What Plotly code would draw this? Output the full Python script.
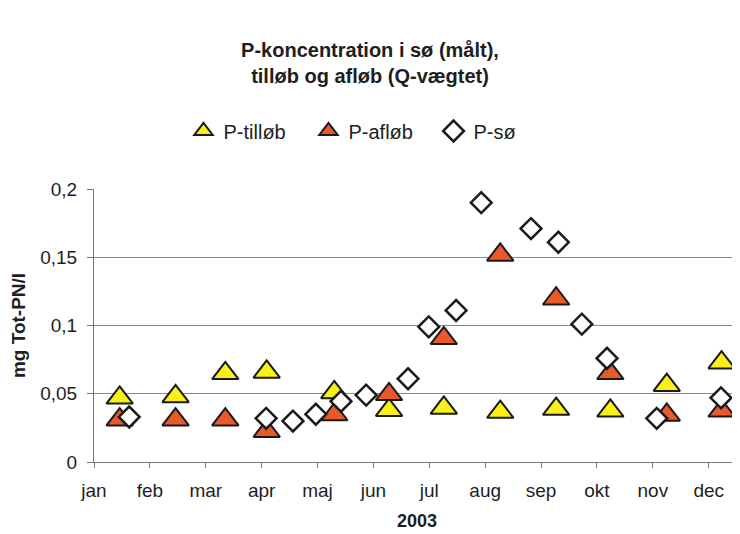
import plotly.graph_objects as go

# Month positions (0 = 1 January 2003, 1 = 1 February, ...)
month_labels = ["jan", "feb", "mar", "apr", "maj", "jun", "jul", "aug", "sep", "okt", "nov", "dec"]
month_ticks = list(range(12))

# Inlet / outlet (flow-weighted) sampling times, in months
flow_x = [0.46, 1.46, 2.35, 3.09, 4.30, 5.28, 6.26, 7.27, 8.27, 9.24, 10.25, 11.23]
p_tilloeb = [0.047, 0.048, 0.065, 0.066, 0.051, 0.038, 0.0396, 0.0366, 0.0388, 0.0375, 0.0563, 0.0728]
p_afloeb = [0.031, 0.031, 0.031, 0.0226, 0.0348, 0.0496, 0.0906, 0.1517, 0.1196, 0.065, 0.0345, 0.0375]

# Lake (measured) sampling times, in months
lake_x = [0.63, 3.08, 3.56, 3.97, 4.42, 4.87, 5.62, 5.99, 6.48, 6.93, 7.82, 8.31, 8.73, 9.18, 10.07, 11.22]
p_soe = [0.033, 0.032, 0.030, 0.035, 0.0445, 0.049, 0.061, 0.099, 0.111, 0.190, 0.171, 0.161, 0.101, 0.076, 0.032, 0.047]

FONT = "Liberation Sans"
TXT = "#1e1e1e"
EDGE = "#1a1a1a"

# page body has an 8px margin; figure is sized so it fills the 740x534 window
W, H = 732, 526

fig = go.Figure()
fig.add_trace(go.Scatter(
    x=flow_x, y=p_tilloeb, mode="markers", name="P-tilløb",
    marker=dict(symbol="triangle-up", size=23, color="#F8F018",
                line=dict(color=EDGE, width=2)),
    cliponaxis=False,
))
fig.add_trace(go.Scatter(
    x=flow_x, y=p_afloeb, mode="markers", name="P-afløb",
    marker=dict(symbol="triangle-up", size=23, color="#E8592B",
                line=dict(color=EDGE, width=2)),
    cliponaxis=False,
))
fig.add_trace(go.Scatter(
    x=lake_x, y=p_soe, mode="markers", name="P-sø",
    marker=dict(symbol="diamond", size=16, color="white",
                line=dict(color=EDGE, width=2.5)),
    cliponaxis=False,
))

fig.update_layout(
    width=W, height=H,
    margin=dict(l=86, r=0, t=181, b=72),
    paper_bgcolor="white", plot_bgcolor="white",
    separators=",.",
    font=dict(family=FONT, size=19, color=TXT),
    title=dict(
        text="<b>P-koncentration i sø (målt),<br>tilløb og afløb (Q-vægtet)</b>",
        x=362 / W, xref="container", xanchor="center",
        y=1 - 48.5 / H, yref="container", yanchor="middle",
        font=dict(family=FONT, size=20, color=TXT),
    ),
    legend=dict(
        orientation="h", xref="container", yref="container",
        x=363 / W, xanchor="center", y=1 - 123 / H, yanchor="middle",
        font=dict(family=FONT, size=20, color=TXT),
        itemwidth=30, entrywidth=80, entrywidthmode="pixels",
        bgcolor="rgba(0,0,0,0)",
    ),
    showlegend=True,
)

fig.update_xaxes(
    range=[0, 11.56],
    tickvals=month_ticks, ticktext=month_labels,
    ticks="outside", ticklen=5, tickcolor="#777",
    ticklabelstandoff=6,
    showline=True, linecolor="#777", linewidth=1,
    showgrid=False, zeroline=False,
    tickfont=dict(family=FONT, size=19, color=TXT),
    title=dict(text="<b>2003</b>", font=dict(family=FONT, size=18, color=TXT), standoff=14),
)
fig.update_yaxes(
    range=[0, 0.2], dtick=0.05, tick0=0,
    ticks="outside", ticklen=6, tickcolor="#777",
    ticklabelstandoff=6,
    showline=True, linecolor="#777", linewidth=1,
    showgrid=True, gridcolor="#8a8a8a", gridwidth=1, zeroline=False,
    tickfont=dict(family=FONT, size=19, color=TXT),
    title=dict(text="<b>mg Tot-PN/l</b>", font=dict(family=FONT, size=19, color=TXT), standoff=10),
)

fig.write_html("out.html")
